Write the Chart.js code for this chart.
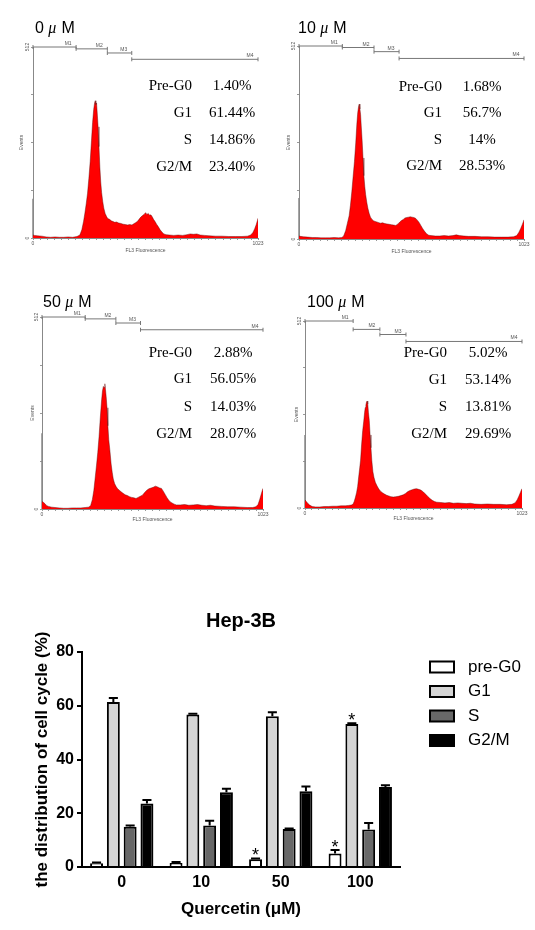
<!DOCTYPE html>
<html>
<head>
<meta charset="utf-8">
<script src="https://cdn.jsdelivr.net/npm/chart.js@4.4.1/dist/chart.umd.min.js"></script>
<style>
html, body { margin: 0; padding: 0; background: #fff; }
body { width: 535px; height: 930px; position: relative; overflow: hidden; }
.box { position: absolute; }
</style>
</head>
<body>
<div class="box" style="left:0;top:0;width:265px;height:260px"><canvas id="hist0"></canvas></div>
<div class="box" style="left:266px;top:0;width:265px;height:260px"><canvas id="hist10"></canvas></div>
<div class="box" style="left:0;top:270px;width:270px;height:262px"><canvas id="hist50"></canvas></div>
<div class="box" style="left:270px;top:270px;width:262px;height:262px"><canvas id="hist100"></canvas></div>
<div class="box" style="left:0;top:595px;width:535px;height:335px"><canvas id="bars"></canvas></div>
<script>
//------data
const doses = ['0', '10', '50', '100'];

// flow histograms: FL3 channel / events
const chan0 = [0, 6, 20, 40, 60, 80, 100, 120, 140, 160, 180, 200, 213, 222, 230, 236, 242, 248, 254, 260, 266, 271, 276, 280, 283, 286, 289, 292, 296, 300, 304, 308, 312, 317, 322, 328, 334, 340, 348, 356, 364, 372, 380, 390, 400, 410, 420, 430, 440, 450, 458, 466, 474, 482, 490, 498, 506, 512, 518, 524, 530, 536, 542, 548, 555, 562, 570, 578, 586, 595, 605, 620, 640, 660, 680, 700, 715, 730, 745, 760, 780, 800, 830, 860, 890, 920, 950, 975, 990, 1000, 1008, 1015, 1020, 1023];
const events0 = [8, 7, 6, 5, 3, 2, 3, 2, 2, 3, 2, 4, 8, 22, 45, 67, 92, 120, 160, 205, 262, 310, 345, 362, 368, 358, 362, 335, 298, 245, 190, 150, 122, 98, 80, 66, 58, 52, 50, 46, 44, 42, 43, 40, 39, 37, 36, 35, 36, 35, 38, 41, 44, 50, 56, 60, 64, 68, 63, 66, 61, 62, 57, 50, 44, 37, 30, 22, 16, 11, 9, 8, 7, 8, 7, 9, 11, 10, 11, 8, 7, 6, 5, 5, 4, 4, 4, 5, 8, 15, 25, 36, 46, 53];

const chan10 = [0, 6, 20, 40, 60, 80, 100, 120, 140, 160, 180, 195, 203, 212, 220, 228, 234, 240, 246, 252, 258, 263, 267, 271, 274, 277, 280, 283, 287, 291, 295, 299, 303, 308, 313, 319, 325, 332, 340, 350, 360, 370, 380, 390, 400, 410, 420, 430, 440, 450, 458, 466, 474, 482, 490, 498, 506, 514, 522, 530, 538, 546, 554, 562, 570, 580, 590, 600, 620, 640, 660, 680, 700, 715, 730, 750, 770, 800, 830, 860, 890, 920, 950, 975, 990, 1000, 1008, 1015, 1020, 1023];
const events10 = [8, 7, 6, 5, 4, 4, 3, 3, 3, 4, 3, 4, 8, 22, 42, 62, 90, 125, 165, 205, 255, 305, 335, 352, 358, 345, 330, 300, 262, 215, 168, 140, 118, 98, 82, 68, 58, 52, 48, 46, 44, 42, 43, 41, 40, 39, 38, 37, 36, 40, 45, 49, 52, 56, 57, 58, 59, 58, 57, 55, 50, 44, 36, 28, 21, 14, 10, 9, 8, 8, 9, 8, 9, 11, 9, 8, 7, 7, 6, 6, 5, 5, 5, 6, 9, 18, 28, 38, 46, 51];

const chan50 = [0, 6, 14, 22, 30, 45, 60, 80, 100, 120, 140, 160, 180, 200, 215, 225, 233, 240, 245, 252, 258, 264, 270, 276, 280, 284, 287, 291, 294, 297, 301, 305, 309, 314, 320, 325, 330, 336, 343, 350, 358, 366, 375, 385, 395, 405, 415, 425, 435, 445, 455, 465, 475, 485, 495, 505, 515, 525, 535, 545, 553, 562, 570, 578, 586, 594, 602, 612, 622, 640, 660, 680, 700, 720, 740, 760, 780, 800, 830, 860, 890, 920, 950, 975, 990, 1000, 1008, 1015, 1020, 1023];
const events50 = [20, 18, 14, 9, 7, 5, 4, 3, 2, 2, 3, 3, 3, 4, 5, 9, 25, 50, 77, 115, 150, 193, 245, 291, 315, 327, 324, 334, 318, 300, 270, 222, 185, 158, 120, 98, 80, 68, 60, 54, 50, 46, 42, 38, 36, 33, 31, 30, 28, 31, 34, 37, 44, 50, 54, 56, 58, 61, 59, 56, 55, 47, 39, 31, 24, 19, 16, 13, 11, 11, 12, 10, 11, 12, 10, 9, 10, 8, 7, 6, 6, 5, 4, 4, 6, 12, 26, 40, 50, 55];

const chan100 = [0, 6, 14, 22, 34, 50, 70, 90, 110, 130, 150, 170, 190, 205, 218, 226, 232, 238, 243, 248, 253, 258, 262, 267, 272, 277, 281, 284, 287, 290, 293, 296, 299, 303, 307, 311, 315, 320, 325, 332, 340, 348, 356, 365, 375, 385, 395, 405, 416, 428, 440, 452, 463, 474, 485, 495, 505, 515, 526, 536, 546, 558, 568, 578, 589, 600, 610, 621, 640, 660, 680, 700, 720, 740, 760, 780, 800, 830, 860, 890, 920, 950, 975, 990, 1000, 1008, 1015, 1020, 1023];
const events100 = [22, 18, 12, 8, 4, 3, 3, 4, 4, 5, 5, 6, 6, 7, 8, 10, 18, 30, 42, 58, 85, 110, 131, 175, 212, 238, 262, 275, 282, 290, 293, 285, 262, 240, 200, 165, 130, 100, 84, 70, 60, 52, 46, 42, 38, 35, 33, 31, 30, 31, 32, 34, 36, 40, 45, 48, 50, 52, 53, 51, 49, 44, 38, 32, 26, 21, 18, 16, 15, 14, 15, 13, 14, 13, 12, 13, 11, 10, 11, 10, 10, 9, 10, 14, 22, 32, 42, 49, 53];

// debris spike at channel 0
const debris = [105, 109, 202, 200];

// M1..M4 gates
const gates0 = [[0, 196], [196, 338], [338, 449], [449, 1023]];
const gates10 = [[0, 197], [197, 341], [341, 455], [455, 1023]];
const gates50 = [[0, 200], [200, 342], [342, 456], [456, 1023]];
const gates100 = [[0, 227], [227, 353], [353, 476], [476, 1023]];
const gateLevels0 = [512, 507, 496, 479];
const gateLevels10 = [512, 508, 497, 479];
const gateLevels50 = [512, 507, 496, 478];
const gateLevels100 = [512, 489, 475, 456];

// percentages printed on each histogram
const statNames = ['Pre-G0', 'G1', 'S', 'G2/M'];
const stats0 = ['1.40%', '61.44%', '14.86%', '23.40%'];
const stats10 = ['1.68%', '56.7%', '14%', '28.53%'];
const stats50 = ['2.88%', '56.05%', '14.03%', '28.07%'];
const stats100 = ['5.02%', '53.14%', '13.81%', '29.69%'];

// bar chart (mean + SEM)
const phases = ['pre-G0', 'G1', 'S', 'G2/M'];
const preG0 = [1.4, 1.5, 2.9, 5.0];
const g1 = [61.4, 56.7, 56.1, 53.2];
const sPhase = [15.0, 15.4, 14.1, 14.0];
const g2m = [23.6, 27.8, 28.2, 29.8];
const preG0Err = [0.3, 0.4, 0.3, 1.3];
const g1Err = [1.5, 0.3, 1.5, 0.3];
const sErr = [0.4, 1.8, 0.2, 2.4];
const g2mErr = [1.3, 1.3, 1.8, 0.6];
const preG0Sig = [false, false, true, true];
const g1Sig = [false, false, false, true];
const noSig = [false, false, false, false];

Chart.defaults.font.family = '"Liberation Sans", Arial, sans-serif';
Chart.defaults.color = '#000';

//------histograms
const histText = {
    id: 'histText',
    afterDraw(chart, args, o) {
        const { ctx, chartArea: a, scales: { x, y } } = chart;
        ctx.save();
        // panel title
        ctx.fillStyle = '#000';
        ctx.textBaseline = 'alphabetic';
        ctx.textAlign = 'left';
        let tx = o.titleX;
        ctx.font = '16px "Liberation Sans"';
        ctx.fillText(o.dose, tx, o.titleY);
        tx += ctx.measureText(o.dose + ' ').width;
        ctx.font = 'italic 16px "Liberation Serif"';
        ctx.fillText('\u03bc', tx, o.titleY);
        tx += ctx.measureText('\u03bc').width + 5;
        ctx.font = '16px "Liberation Sans"';
        ctx.fillText('M', tx, o.titleY);
        // gate names
        ctx.font = '5px "Liberation Sans"';
        ctx.fillStyle = '#555';
        ctx.textAlign = 'center';
        o.gates.forEach((g, k) => {
            ctx.fillText('M' + (k + 1), x.getPixelForValue(g[1]) - 8, y.getPixelForValue(o.levels[k]) - 2);
        });
        // rotated y labels
        ['0', '512'].forEach(v => {
            ctx.save();
            ctx.translate(a.left - 5, y.getPixelForValue(Number(v)));
            ctx.rotate(-Math.PI / 2);
            ctx.textBaseline = 'middle';
            ctx.fillText(v, 0, 0);
            ctx.restore();
        });
        // phase percentages
        ctx.fillStyle = '#000';
        ctx.font = '15px "Liberation Serif"';
        ctx.textBaseline = 'middle';
        statNames.forEach((n, i) => {
            ctx.textAlign = 'right';
            ctx.fillText(n, o.labelX, o.rows[i]);
            ctx.textAlign = 'center';
            ctx.fillText(o.stats[i], o.valueX, o.rows[i]);
        });
        ctx.restore();
    }
};

const xTickVals = [];
for (let v = 0; v < 1023; v += 32) xTickVals.push(v);
xTickVals.push(1023);

function histogram(id, p) {
    const datasets = [{
        data: p.chan.map((c, i) => ({ x: c, y: p.events[i] })),
        borderColor: 'rgba(90,0,0,0.7)',
        borderWidth: 0.6,
        backgroundColor: '#ff0000',
        fill: 'origin',
        pointRadius: 0,
        tension: 0
    }, {
        data: [{ x: 0, y: 0 }, { x: 0, y: p.debris }],
        borderColor: '#888',
        borderWidth: 1.5,
        pointRadius: 0,
        clip: false
    }];
    p.gates.forEach((g, k) => {
        datasets.push({
            data: [{ x: g[0], y: p.levels[k] }, { x: g[1], y: p.levels[k] }],
            borderColor: '#777',
            borderWidth: 1,
            pointStyle: 'line',
            rotation: 90,
            pointRadius: 2,
            pointBorderColor: '#777',
            pointBorderWidth: 1,
            clip: false
        });
    });
    return new Chart(document.getElementById(id), {
        type: 'line',
        data: { datasets },
        options: {
            responsive: true,
            maintainAspectRatio: false,
            animation: false,
            layout: { padding: { left: 0, top: p.padT, right: p.padR, bottom: 0 } },
            plugins: {
                legend: { display: false },
                tooltip: { enabled: false },
                histText: {
                    dose: p.dose, titleX: p.titleX, titleY: p.titleY,
                    gates: p.gates, levels: p.levels,
                    stats: p.stats, labelX: p.labelX, valueX: p.valueX, rows: p.rows
                }
            },
            scales: {
                x: {
                    type: 'linear', min: 0, max: 1023,
                    afterBuildTicks: s => { s.ticks = xTickVals.map(v => ({ value: v })); },
                    ticks: {
                        autoSkip: false, maxRotation: 0, padding: 1, color: '#555',
                        font: { size: 5 },
                        callback: v => (v === 0 || v === 1023) ? String(v) : ''
                    },
                    grid: { drawOnChartArea: false, drawTicks: true, tickLength: 2, color: '#999' },
                    border: { color: '#888' },
                    title: { display: true, text: 'FL3 Fluorescence', color: '#555', font: { size: 5 }, padding: { top: 0, bottom: p.xTitlePad } },
                    afterFit: s => { s.height = p.xH; }
                },
                y: {
                    min: 0, max: 512,
                    afterBuildTicks: s => { s.ticks = [0, 128, 256, 384, 512].map(v => ({ value: v })); },
                    ticks: { display: false },
                    grid: { drawOnChartArea: false, drawTicks: true, tickLength: 2, color: '#999' },
                    border: { color: '#888' },
                    title: { display: true, text: 'Events', color: '#555', font: { size: 5 }, padding: { top: p.yTitlePad, bottom: 0 } },
                    afterFit: s => { s.width = p.yW; }
                }
            }
        },
        plugins: [histText]
    });
}

histogram('hist0', {
    chan: chan0, events: events0, debris: debris[0], gates: gates0, levels: gateLevels0, stats: stats0,
    dose: doses[0], titleX: 35, titleY: 33, labelX: 192, valueX: 232, rows: [86, 113, 140, 167],
    padT: 47, padR: 7, yW: 33, xH: 22, yTitlePad: 19, xTitlePad: 6
});
histogram('hist10', {
    chan: chan10, events: events10, debris: debris[1], gates: gates10, levels: gateLevels10, stats: stats10,
    dose: doses[1], titleX: 32, titleY: 33, labelX: 176, valueX: 216, rows: [87, 113, 140, 166],
    padT: 46, padR: 7, yW: 33, xH: 21, yTitlePad: 20, xTitlePad: 5
});
histogram('hist50', {
    chan: chan50, events: events50, debris: debris[2], gates: gates50, levels: gateLevels50, stats: stats50,
    dose: doses[2], titleX: 43, titleY: 37, labelX: 192, valueX: 233, rows: [83, 109, 137, 164],
    padT: 47, padR: 7, yW: 42, xH: 23, yTitlePad: 30, xTitlePad: 9
});
histogram('hist100', {
    chan: chan100, events: events100, debris: debris[3], gates: gates100, levels: gateLevels100, stats: stats100,
    dose: doses[3], titleX: 37, titleY: 37, labelX: 177, valueX: 218, rows: [83, 110, 137, 164],
    padT: 51, padR: 10, yW: 35, xH: 24, yTitlePad: 24, xTitlePad: 10
});

//------bar chart
const errorBars = {
    id: 'errorBars',
    afterDatasetsDraw(chart) {
        const { ctx, scales: { y } } = chart;
        ctx.save();
        ctx.strokeStyle = '#000';
        ctx.fillStyle = '#000';
        ctx.lineWidth = 2;
        ctx.textAlign = 'center';
        ctx.textBaseline = 'alphabetic';
        ctx.font = '18px "Liberation Sans"';
        chart.data.datasets.forEach((ds, i) => {
            chart.getDatasetMeta(i).data.forEach((bar, j) => {
                const base = y.getPixelForValue(ds.data[j]);
                const top = y.getPixelForValue(ds.data[j] + ds.errors[j]);
                const half = bar.width * 0.35;
                ctx.beginPath();
                ctx.moveTo(bar.x, base);
                ctx.lineTo(bar.x, top);
                ctx.moveTo(bar.x - half, top);
                ctx.lineTo(bar.x + half, top);
                ctx.stroke();
                if (ds.significant[j]) ctx.fillText('*', bar.x, top + 3);
            });
        });
        ctx.restore();
    }
};

// legend drawn beside the plot (the built-in one gets squeezed on the right)
const sideLegend = {
    id: 'sideLegend',
    afterDraw(chart, args, o) {
        const { ctx } = chart;
        ctx.save();
        ctx.font = '17px "Liberation Sans"';
        ctx.textBaseline = 'middle';
        ctx.textAlign = 'left';
        chart.data.datasets.forEach((ds, i) => {
            const cy = o.top + i * o.step;
            ctx.fillStyle = ds.backgroundColor;
            ctx.fillRect(o.x, cy - 5.5, 24, 11);
            ctx.strokeStyle = '#000';
            ctx.lineWidth = 2;
            ctx.strokeRect(o.x, cy - 5.5, 24, 11);
            ctx.fillStyle = '#000';
            ctx.fillText(ds.label, o.textX, cy);
        });
        ctx.restore();
    }
};

new Chart(document.getElementById('bars'), {
    type: 'bar',
    data: {
        labels: doses,
        datasets: [
            { label: phases[0], data: preG0, errors: preG0Err, significant: preG0Sig, backgroundColor: '#ffffff' },
            { label: phases[1], data: g1, errors: g1Err, significant: g1Sig, backgroundColor: '#d4d4d4' },
            { label: phases[2], data: sPhase, errors: sErr, significant: noSig, backgroundColor: '#686868' },
            { label: phases[3], data: g2m, errors: g2mErr, significant: noSig, backgroundColor: '#000000' }
        ]
    },
    options: {
        responsive: true,
        maintainAspectRatio: false,
        animation: false,
        layout: { padding: { left: 28, top: 0, right: 135, bottom: 0 } },
        datasets: {
            bar: { categoryPercentage: 0.845, barPercentage: 0.77, borderWidth: 2, borderColor: '#000' }
        },
        plugins: {
            title: {
                display: true, text: 'Hep-3B', color: '#000', fullSize: false,
                font: { size: 20, weight: 'bold' }, padding: { top: 14, bottom: 19 }
            },
            legend: { display: false },
            sideLegend: { x: 430, textX: 468, top: 72, step: 24.5 },
            tooltip: { enabled: false }
        },
        scales: {
            x: {
                grid: { display: false, drawTicks: false },
                border: { color: '#000', width: 2 },
                ticks: { padding: 6, color: '#000', font: { size: 16, weight: 'bold' } },
                title: { display: true, text: 'Quercetin (\u03bcM)', color: '#000', font: { size: 17, weight: 'bold' }, padding: { top: 0, bottom: 10 } },
                afterFit: s => { s.height = 63; }
            },
            y: {
                min: 0, max: 80,
                ticks: { stepSize: 20, padding: 3, color: '#000', font: { size: 16, weight: 'bold' } },
                grid: { drawOnChartArea: false, drawTicks: true, tickLength: 5, color: '#000', lineWidth: 2 },
                border: { color: '#000', width: 2 },
                title: { display: true, text: 'the distribution of cell cycle (%)', color: '#000', font: { size: 17, weight: 'bold' }, padding: { top: 4, bottom: 0 } },
                afterFit: s => { s.width = 54; }
            }
        }
    },
    plugins: [errorBars, sideLegend]
});
</script>
</body>
</html>
